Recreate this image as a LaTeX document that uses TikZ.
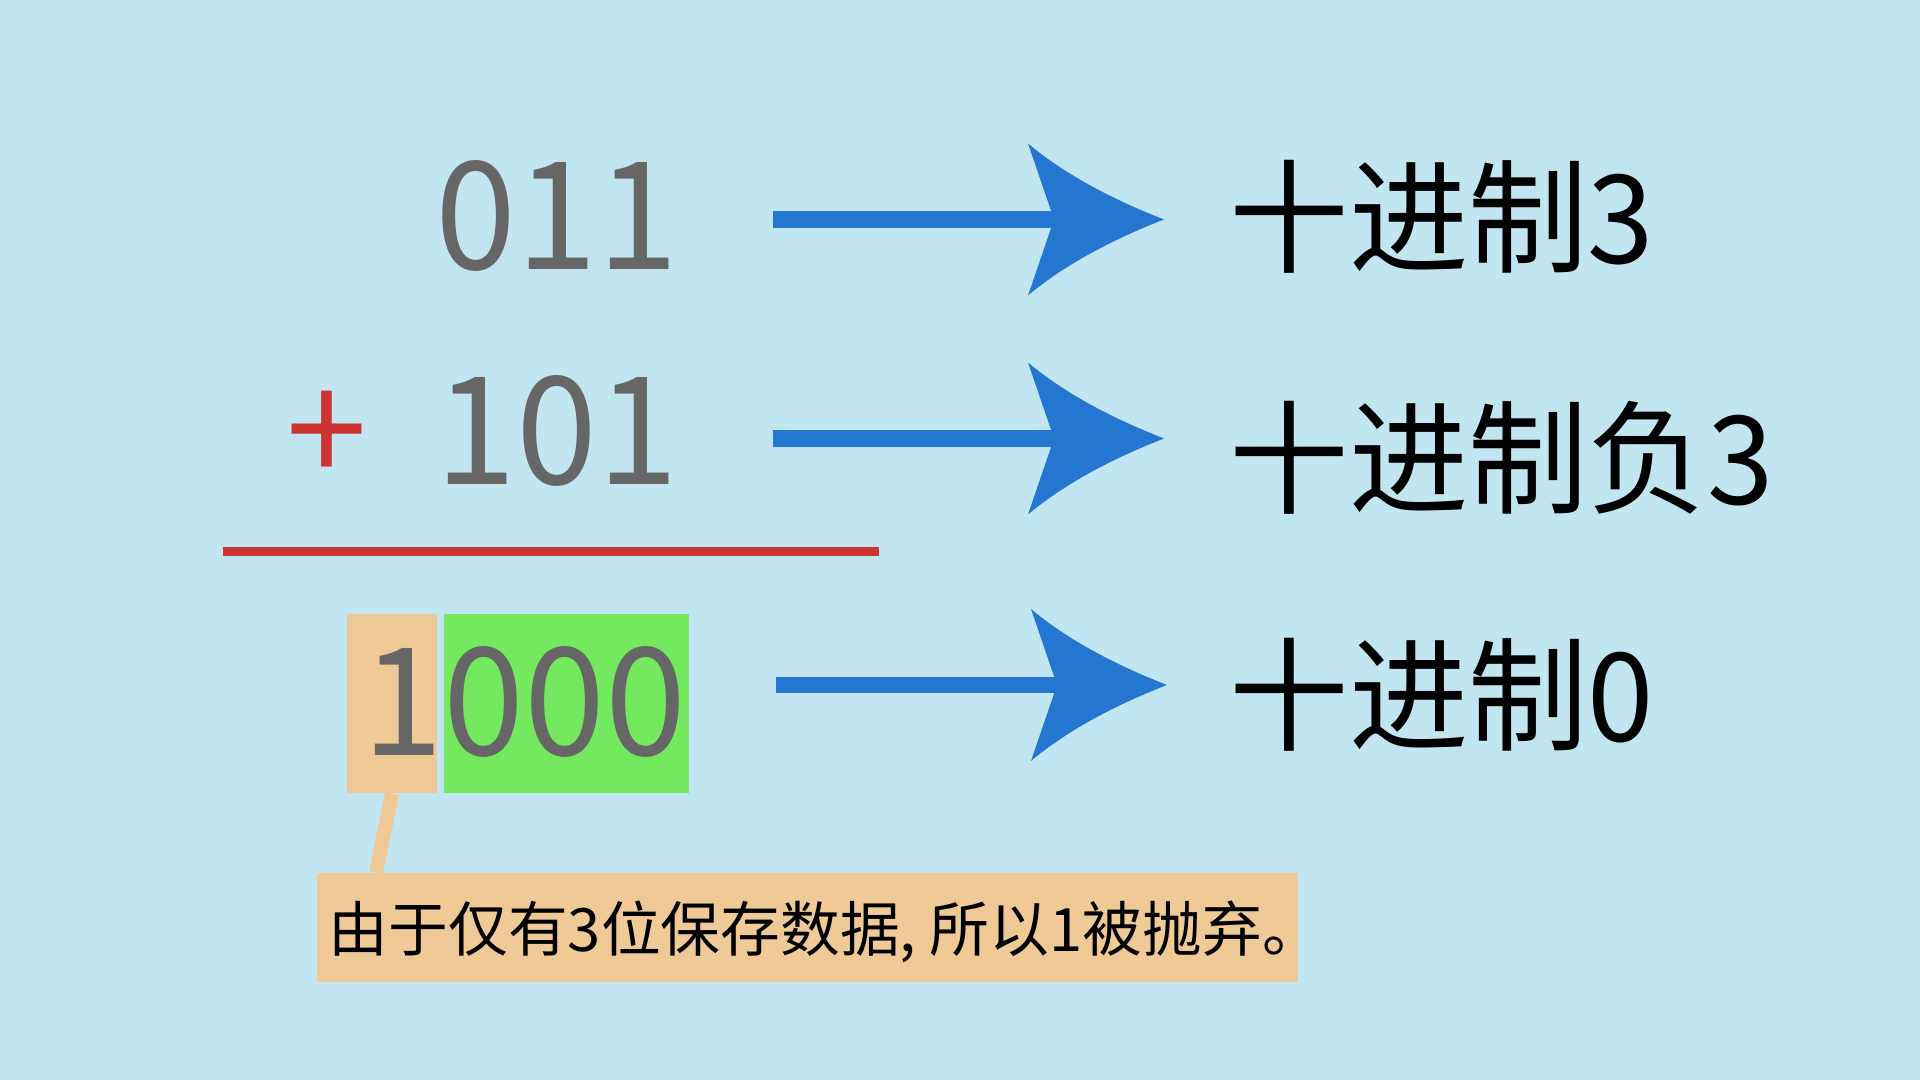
\documentclass[tikz,border=0pt]{standalone}
\usepackage{fontspec}
\setmainfont[FakeStretch=0.97]{Noto Sans CJK SC}
\newfontfamily\notefont{Noto Sans CJK SC}
\usetikzlibrary{calc}

\definecolor{bgblue}{RGB}{194,230,241}
\definecolor{arrowblue}{RGB}{36,118,209}
\definecolor{digitgray}{RGB}{102,102,102}
\definecolor{rulered}{RGB}{204,51,51}
\definecolor{noteorange}{RGB}{239,202,150}
\definecolor{keepgreen}{RGB}{116,232,94}

\tikzset{
    num/.style={inner sep=0pt, text=digitgray, font=\fontsize{42.7pt}{48pt}\selectfont},
    dectext/.style={inner sep=0pt, text=black, font=\fontsize{35pt}{40pt}\selectfont},
    carrybox/.style={inner sep=0pt, fill=noteorange, minimum width=0.9cm, minimum height=1.79cm},
    keepbox/.style={inner sep=0pt, fill=keepgreen, minimum width=2.45cm, minimum height=1.79cm},
    notebox/.style={inner sep=0pt, fill=noteorange, minimum width=9.81cm, minimum height=1.09cm},
    notetext/.style={inner sep=0pt, font=\notefont\fontsize{17pt}{20pt}\selectfont},
    shaft/.style={arrowblue, line width=4.8pt},
    head/.pic={\fill[arrowblue] (-110,0) -- (-136,-76)
        .. controls (-104,-49) and (-59,-23) .. (0,0)
        .. controls (-59,23) and (-104,49) .. (-136,76) -- cycle;}
}

\begin{document}
\begin{tikzpicture}[x=0.01cm, y=-0.01cm]
    \fill[bgblue] (0,0) rectangle (1920,1080);

    % the sum
    \node[num, anchor=base east] (first) at (679,270) {011};
    \node[num, anchor=base east] (second) at (679,485) {101};
    \node[num, text=rulered, anchor=base] (plus) at (327,485) {+};
    \draw[rulered, line width=2.3pt] (223,551.5) -- (879,551.5);

    \node[carrybox] (carry) at (392,703.5) {};
    \node[keepbox] (kept) at (566.5,703.5) {};
    \node[num, anchor=base west] (sum) at (362,756) {1000};

    % decimal values
    \node[dectext, anchor=base west] (dec1) at (1229,264) {十进制3};
    \node[dectext, anchor=base west] (dec2) at (1229,505) {十进制负3};
    \node[dectext, anchor=base west] (dec3) at (1229,742) {十进制0};

    \coordinate (s1) at (773,219.5);
    \coordinate (h1) at (1164,219.5);
    \coordinate (s2) at (773,438.5);
    \coordinate (h2) at (1164,438.5);
    \coordinate (s3) at (776,685);
    \coordinate (h3) at (1167,685);

    \foreach \i in {1,2,3} {
        \draw[shaft] (s\i) -- ($(h\i)+(-106,0)$);
        \pic at (h\i) {head};
    }

    % note on the lost bit
    \node[notebox] (lost) at (807.5,927.5) {};
    \node[notetext, anchor=west] (losttext) at ($(lost.west)+(12,4)$) {由于仅有3位保存数据, 所以1被抛弃。};
    \draw[noteorange, line width=4pt] (carry.south) -- ($(lost.north west)+(60,0)$);
\end{tikzpicture}
\end{document}
